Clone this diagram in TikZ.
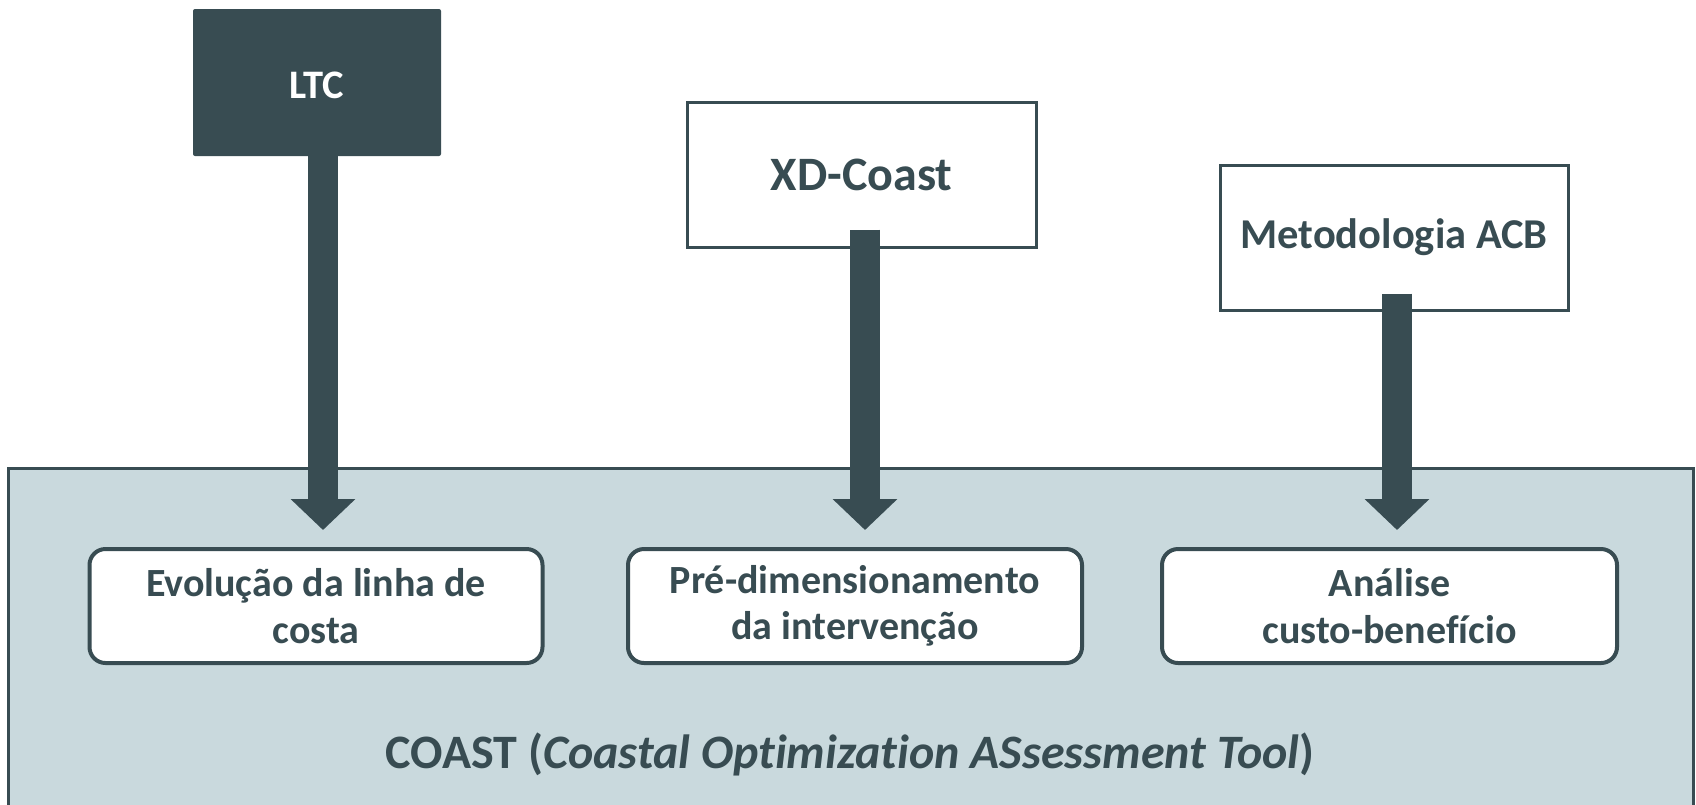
\documentclass[tikz,border=0pt]{standalone}
\usepackage{fontspec}
\setmainfont{Carlito}[Ligatures={NoCommon}]
\usetikzlibrary{arrows.meta,calc}

\definecolor{slate}{RGB}{56,76,82}
\definecolor{panelfill}{RGB}{201,217,221}

\tikzset{
  toolbox/.style={draw=slate, line width=3pt, fill=white, text=slate,
    inner sep=0pt, font=\bfseries},
  darkbox/.style={fill=slate, rounded corners=2pt, text=white,
    inner sep=0pt, font=\bfseries\fontsize{40.5}{46}\selectfont},
  modulebox/.style={draw=slate, line width=4pt, fill=white, text=slate,
    rounded corners=16pt, inner sep=0pt, minimum height=114pt,
    align=center, font=\bfseries\fontsize{40}{46.5}\selectfont},
  feed/.style={draw=slate, line width=30pt,
    -{Triangle[width=63pt,length=31pt]}},
  panel/.style={draw=slate, line width=3pt, fill=panelfill}
}

\begin{document}
\begin{tikzpicture}[x=1pt,y=-1pt]
  \clip (0,0) rectangle (1696,804);
  \fill[white] (0,0) rectangle (1696,804);

  % framework panel
  \draw[panel] (8,468) rectangle (1693,830);
  \node[text=slate, font=\bfseries\fontsize{48}{56}\selectfont] (coast) at (850,754)
    {COAST (\textit{Coastal Optimization ASsessment Tool})};

  % source tools
  \node[darkbox, minimum width=248pt, minimum height=147pt] (ltc) at (317,82.5) {};
  \node[text=white, inner sep=0pt, font=\bfseries\fontsize{40.5}{46}\selectfont]
    (ltclabel) at (317,85) {LTC};
  \node[toolbox, minimum width=349pt, minimum height=145pt,
        font=\bfseries\fontsize{48}{56}\selectfont] (xd) at (861.5,174.5) {XD-Coast};
  \node[toolbox, minimum width=348pt, minimum height=145pt,
        font=\bfseries\fontsize{42.5}{50}\selectfont] (acb) at (1394,237.5) {Metodologia ACB};

  % COAST modules
  \node[modulebox, minimum width=453pt] (m1) at (316,606) {Evolução da linha de\\costa};
  \node[modulebox, minimum width=454pt] (m2) at (855,606) {Pré-dimensionamento\\da intervenção};
  \node[modulebox, minimum width=455pt] (m3) at (1389.5,606) {Análise\\custo-benefício};

  % arrow tips just above the modules
  \coordinate (t1) at (323,530);
  \coordinate (t2) at (865,530);
  \coordinate (t3) at (1397,530);

  \draw[feed] (ltc.south -| t1) -- (t1);
  \draw[feed] ($(xd.south -| t2)+(0,-19)$) -- (t2);
  \draw[feed] ($(acb.south -| t3)+(0,-18)$) -- (t3);
\end{tikzpicture}
\end{document}
